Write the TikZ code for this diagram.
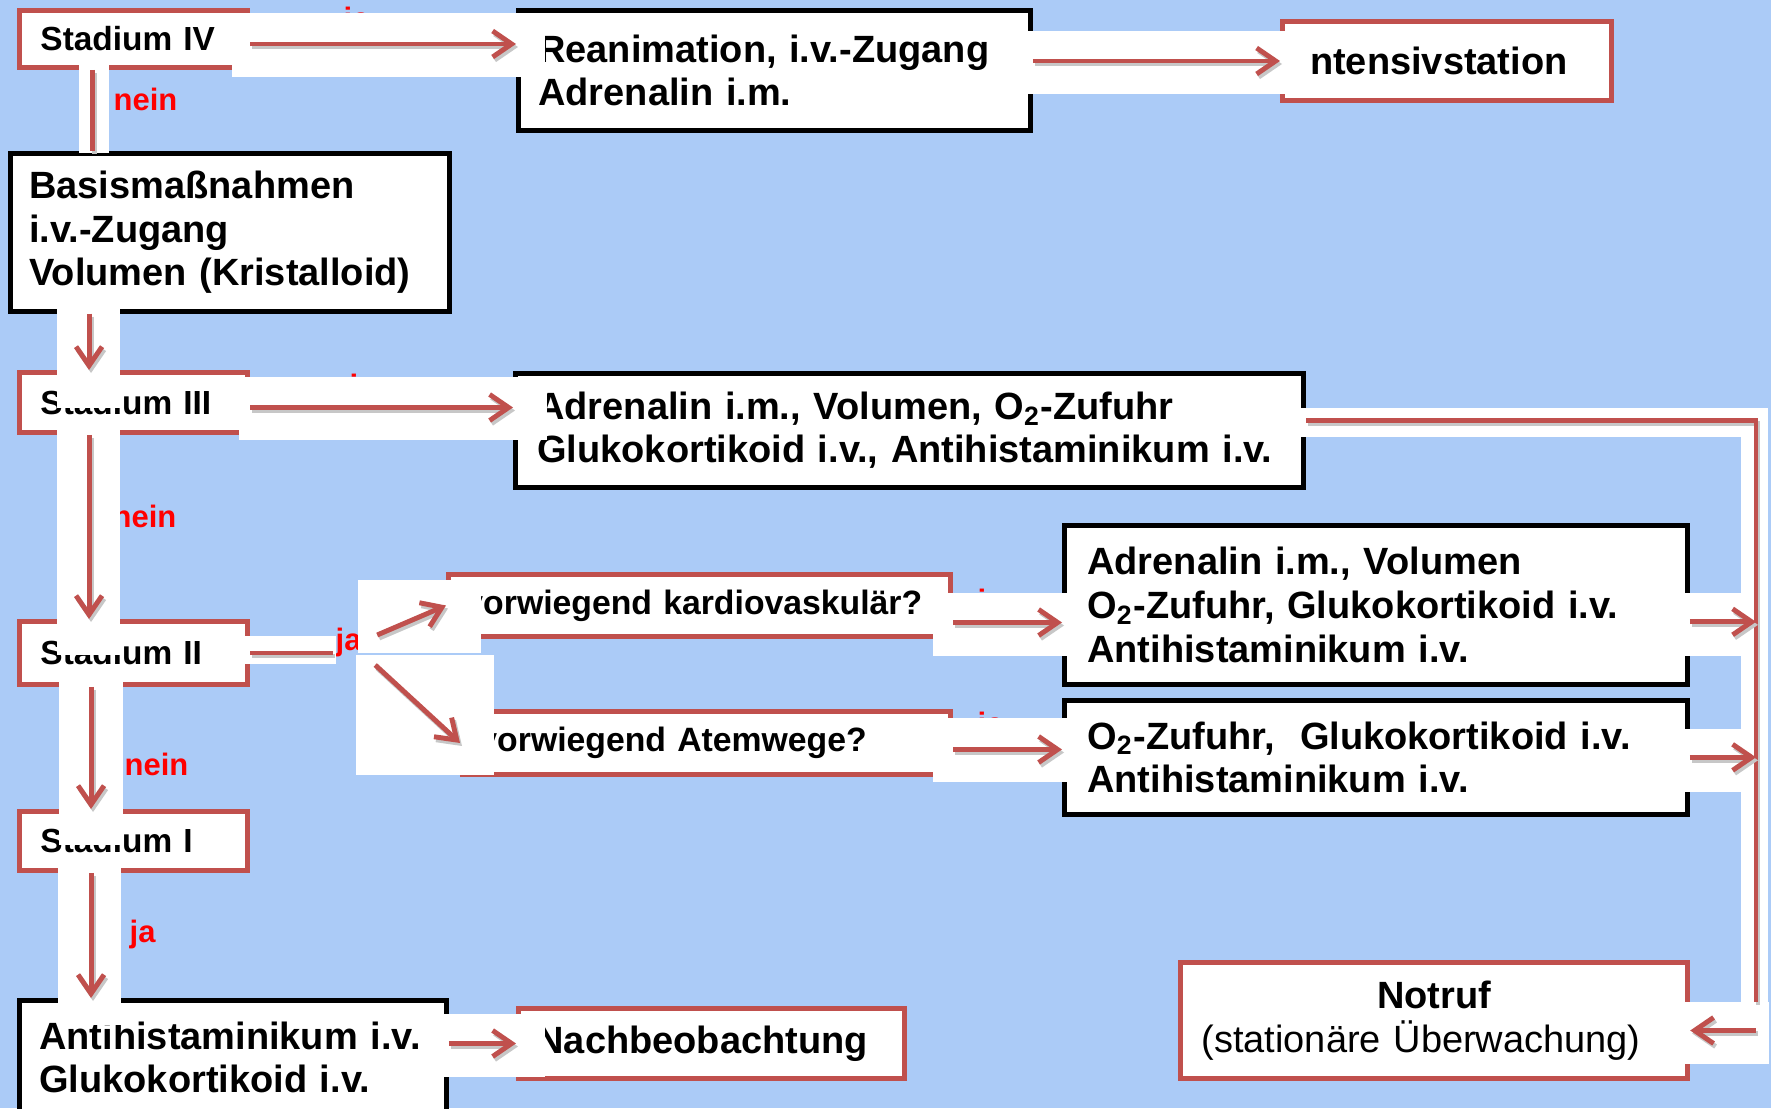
\documentclass[tikz,border=0pt]{standalone}
\usepackage{fontspec}
\setmainfont{Liberation Sans}
\usetikzlibrary{arrows.meta, calc}
\definecolor{bgblue}{RGB}{171,203,247}
\definecolor{boxred}{RGB}{192,80,77}

\begin{document}
\begin{tikzpicture}[
    x=0.01cm, y=-0.01cm,
    box/.style={fill=white, anchor=north west, align=left, inner ysep=0pt},
    act/.style={box, draw=black, line width=1.3pt, font=\bfseries\fontsize{10.8}{12.4}\selectfont, inner xsep=0.2cm},
    goal/.style={box, draw=boxred, line width=1.4pt, font=\bfseries\fontsize{10.8}{12.4}\selectfont, inner xsep=0.2cm},
    stage/.style={box, draw=boxred, line width=1.4pt, font=\bfseries\fontsize{9.5}{11}\selectfont, minimum width=2.28cm, minimum height=0.6cm, text width=1.86cm, inner xsep=0.21cm},
    quest/.style={goal, font=\bfseries\fontsize{9.6}{11}\selectfont, inner xsep=0.16cm},
    answer/.style={text=red, font=\bfseries\fontsize{8.8}{10}\selectfont, anchor=base west, inner sep=0.02cm},
    backing/.style={fill=white},
    flowline/.style={draw=boxred, line width=1.4pt, preaction={draw=black!22, line width=1.4pt, transform canvas={xshift=0.02cm, yshift=-0.03cm}}},
    flow/.style={flowline, -{Straight Barb[length=0.19cm, width=0.26cm]}}
]
    \useasboundingbox (0,0) rectangle (1771,1108);
    \fill[bgblue] (0,0) rectangle (1771,1108);

    % stages, left column
    \node[stage, minimum height=0.57cm] (st4) at (17,8) {Stadium IV};
    \node[act, minimum width=4.39cm, minimum height=1.58cm, text width=4.01cm, inner xsep=0.19cm] (basis) at (8,151) {Basismaßnahmen\\i.v.-Zugang\\Volumen (Kristalloid)};
    \node[stage] (st3) at (17,370) {Stadium III};
    \node[stage, minimum height=0.63cm] (st2) at (17,619) {Stadium II};
    \node[stage, minimum height=0.59cm] (st1) at (17,809) {Stadium I};
    \node[act, minimum width=4.27cm, minimum height=1.14cm, text width=3.87cm] (anti) at (17,998) {Antihistaminikum i.v.\\Glukokortikoid i.v.};

    % measures
    \node[act, minimum width=5.12cm, minimum height=1.2cm, text width=4.72cm] (rean) at (516,8) {Reanimation, i.v.-Zugang\\Adrenalin i.m.};
    \node[goal, minimum width=3.29cm, minimum height=0.79cm, text width=2.95cm, inner xsep=0.17cm] (itn) at (1280,19) {Intensivstation};
    \node[act, minimum width=7.88cm, minimum height=1.14cm, text width=7.44cm, inner xsep=0.22cm] (adr3) at (513,371) {Adrenalin i.m., Volumen, O\textsubscript{2}-Zufuhr\\Glukokortikoid i.v., Antihistaminikum i.v.};
    \node[quest, minimum width=5.02cm, minimum height=0.62cm, text width=4.70cm] (q1) at (446,572) {vorwiegend kardiovaskulär?};
    \node[quest, minimum width=4.88cm, minimum height=0.63cm, text width=4.56cm] (q2) at (460,709) {vorwiegend Atemwege?};
    \node[act, minimum width=6.23cm, minimum height=1.59cm, text width=5.77cm, inner xsep=0.23cm] (r1) at (1062,523) {Adrenalin i.m., Volumen\\O\textsubscript{2}-Zufuhr, Glukokortikoid i.v.\\Antihistaminikum i.v.};
    \node[act, minimum width=6.23cm, minimum height=1.14cm, text width=5.77cm, inner xsep=0.23cm] (r2) at (1062,698) {O\textsubscript{2}-Zufuhr,\ \ Glukokortikoid i.v.\\Antihistaminikum i.v.};
    \node[goal, minimum width=3.86cm, minimum height=0.70cm, text width=3.50cm, inner xsep=0.18cm] (nach) at (516,1006) {Nachbeobachtung};
    \node[goal, minimum width=5.07cm, minimum height=1.16cm, text width=4.67cm, align=center] (notruf) at (1178,960) {Notruf\\\mbox{\mdseries (stationäre Überwachung)\kern0.26cm}};

    % answers
    \node[answer] (ja4) at (341,29) {ja};
    \node[answer] (nein4) at (111,110) {nein};
    \node[answer] (ja3) at (347,396) {ja};
    \node[answer] (nein3) at (110,527) {nein};
    \node[answer] (ja2) at (333,650) {ja};
    \node[answer] (nein2) at (122,775) {nein};
    \node[answer] (ja1) at (127,942) {ja};
    \node[answer] (jakv) at (975,611) {ja};
    \node[answer] (jaaw) at (975,734) {ja};

    % white backings of the connectors
    \foreach \xa/\ya/\xb/\yb in {232/13/545/77, 1027/31/1310/94, 79/63/109/153,
        57/307/120/408, 239/377/547/440, 57/427/120/655, 245/636/336/664,
        358/580/481/653, 356/655/494/775, 59/678/123/845, 933/593/1086/656,
        933/718/1088/782, 1685/593/1768/656, 1685/729/1768/792, 1301/408/1768/437,
        1741/437/1768/1002, 1682/1002/1769/1064, 58/865/121/1025, 439/1014/545/1077}
        \fill[backing] (\xa,\ya) rectangle (\xb,\yb);

    \coordinate (railend) at (1756,1002);

    \draw[flow] ([yshift=-0.05cm]st4.east) -- ([yshift=-0.05cm]st4.east -| rean.west);
    \draw[flow] (rean.east |- itn.west) -- (itn.west);
    \draw[flowline] ([xshift=0.75cm]st4.south west) -- ([xshift=0.75cm]st4.south west |- basis.north);
    \draw[flow] ([xshift=0.81cm]basis.south west) -- ([xshift=0.81cm]basis.south west |- st3.north);
    \draw[flow] ([yshift=-0.05cm]st3.east) -- ([yshift=-0.05cm]st3.east -| adr3.west);
    \draw[flow] ([xshift=0.72cm]st3.south west) -- ([xshift=0.72cm]st3.south west |- st2.north);
    \draw[flowline] (st2.east) -- (st2.east -| ja2.west);
    \draw[flow] ([xshift=0.13cm, yshift=0.07cm]ja2.east) -- (q1.west);
    \draw[flow] ([xshift=0.11cm, yshift=-0.23cm]ja2.east) -- (q2.west);
    \draw[flow] ([yshift=-0.17cm]q1.east) -- ([yshift=-0.17cm]q1.east -| r1.west);
    \draw[flow] ([yshift=-0.065cm]q2.east) -- ([yshift=-0.065cm]q2.east -| r2.west);
    \draw[flow] ([xshift=0.74cm]st2.south west) -- ([xshift=0.74cm]st2.south west |- st1.north);
    \draw[flow] ([xshift=0.74cm]st1.south west) -- ([xshift=0.74cm]st1.south west |- anti.north);
    \draw[flow] (anti.east |- nach.west) -- (nach.west);
    \draw[flowline] ([yshift=0.1cm]adr3.east) -| (railend);
    \draw[flow] ([yshift=-0.17cm]r1.east) -- ([yshift=-0.17cm]r1.east -| railend);
    \draw[flow] (r2.east) -- (r2.east -| railend);
    \draw[flow] ([yshift=-0.1cm]notruf.east -| railend) -- ([yshift=-0.1cm]notruf.east);
\end{tikzpicture}
\end{document}
